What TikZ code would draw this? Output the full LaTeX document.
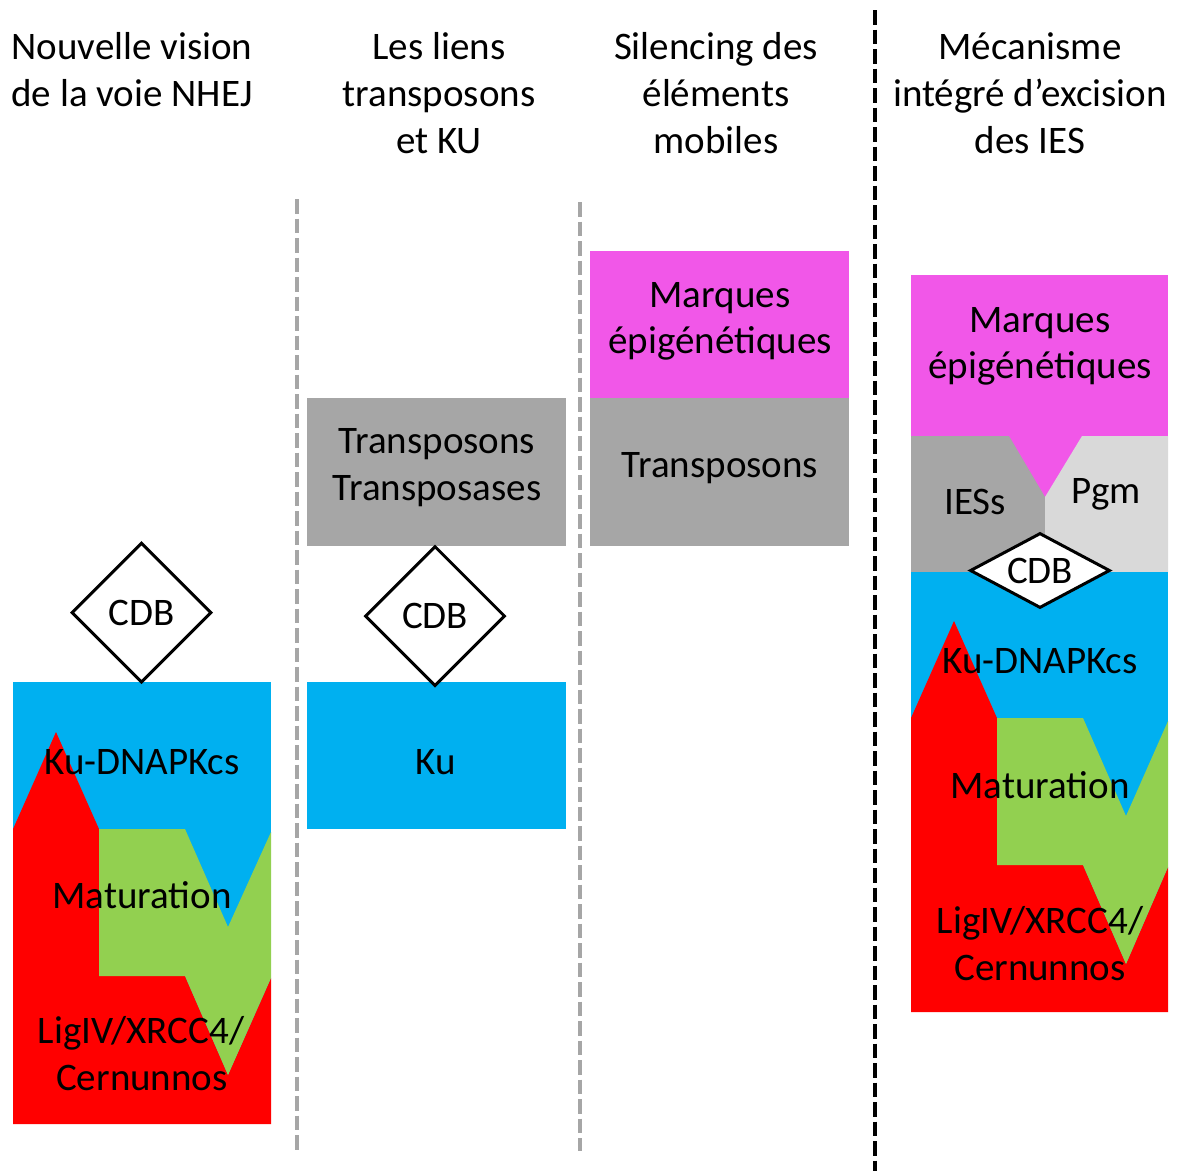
\documentclass[tikz,border=0pt]{standalone}
\usepackage{fontspec}
\setmainfont{Carlito}
\usetikzlibrary{shapes.geometric}
\definecolor{cblue}{HTML}{00B0F0}
\definecolor{cred}{HTML}{FF0000}
\definecolor{cgreen}{HTML}{92D050}
\definecolor{cmag}{HTML}{F157E8}
\definecolor{cgray}{HTML}{A6A6A6}
\definecolor{clgray}{HTML}{D9D9D9}
\definecolor{cdash}{HTML}{A6A6A6}
\begin{document}
\begin{tikzpicture}[x=1pt,y=-1pt,
  txt/.style={font=\fontsize{39}{47}\selectfont, inner sep=0pt, anchor=base},
  cdb/.style={diamond, draw=black, line width=3pt, fill=white, inner sep=0pt,
    font=\fontsize{39}{47}\selectfont},
  sep/.style={line width=3.5pt, dash pattern=on 14.5pt off 5pt}]
\useasboundingbox (0,0) rectangle (1177,1171);
\fill[white] (0,0) rectangle (1177,1171);

% separators
\draw[sep, cdash] (297,199) -- (297,1151);
\draw[sep, cdash] (580,202) -- (580,1151);
\draw[sep, black, line width=4pt] (875,10) -- (875,1171);

% titles
\node[txt] (t1a) at (132,59) {Nouvelle vision};
\node[txt] (t1b) at (132,106) {de la voie NHEJ};
\node[txt] (t2a) at (439,59) {Les liens};
\node[txt] (t2b) at (439,106) {transposons};
\node[txt] (t2c) at (439,153) {et KU};
\node[txt] (t3a) at (716,59) {Silencing des};
\node[txt] (t3b) at (716,106) {éléments};
\node[txt] (t3c) at (716,153) {mobiles};
\node[txt] (t4a) at (1030,59) {Mécanisme};
\node[txt] (t4b) at (1030,106) {intégré d’excision};
\node[txt] (t4c) at (1030,153) {des IES};

% column 1
\fill[cblue] (13,682) rectangle (271,1124);
\fill[cred] (13,829) -- (56,732) -- (99,829) -- (99,976) -- (185,976) -- (228,1075)
  -- (271,978) -- (271,1124) -- (13,1124) -- cycle;
\fill[cgreen] (99,829) -- (185,829) -- (228,927) -- (271,832) -- (271,978)
  -- (228,1075) -- (185,976) -- (99,976) -- cycle;
\node[cdb, minimum width=140pt, minimum height=140pt] (cdb1) at (141.5,612.5) {CDB};
\node[txt] (ku1) at (142,774) {Ku-DNAPKcs};
\node[txt] (mat1) at (142,908) {Maturation};
\node[txt] (lig1) at (141,1043) {LigIV/XRCC4/};
\node[txt] (cer1) at (142,1090) {Cernunnos};

% column 2
\fill[cgray] (307,398) rectangle (566,546);
\fill[cblue] (307,682) rectangle (566,829);
\node[cdb, minimum width=140pt, minimum height=140pt] (cdb2) at (435,616) {CDB};
\node[txt] (tr2a) at (437,453) {Transposons};
\node[txt] (tr2b) at (437,500) {Transposases};
\node[txt] (ku2) at (436,774) {Ku};

% column 3
\fill[cmag] (590,251) rectangle (849,398);
\fill[cgray] (590,398) rectangle (849,546);
\node[txt] (mq3a) at (720,307) {Marques};
\node[txt] (mq3b) at (720,353) {épigénétiques};
\node[txt] (tr3) at (720,477) {Transposons};

% column 4
\fill[cmag] (911,275) rectangle (1168,572);
\fill[cgray] (911,436) -- (1009,436) -- (1045,497) -- (1045,572) -- (911,572) -- cycle;
\fill[clgray] (1082,436) -- (1168,436) -- (1168,572) -- (1045,572) -- (1045,497) -- cycle;
\fill[cblue] (911,572) rectangle (1168,1012);
\fill[cred] (911,718) -- (954,621) -- (997,718) -- (997,865) -- (1083,865) -- (1126,964)
  -- (1168,867) -- (1168,1012) -- (911,1012) -- cycle;
\fill[cgreen] (997,718) -- (1083,718) -- (1126,816) -- (1168,721) -- (1168,867)
  -- (1126,964) -- (1083,865) -- (997,865) -- cycle;
\node[cdb, minimum width=140pt, minimum height=75pt, aspect=1.87] (cdb4) at (1040,570.5) {CDB};
\node[txt] (mq4a) at (1040,332) {Marques};
\node[txt] (mq4b) at (1040,378) {épigénétiques};
\node[txt] (ies) at (975,514) {IESs};
\node[txt] (pgm) at (1106,503) {Pgm};
\node[txt] (ku4) at (1040,673) {Ku-DNAPKcs};
\node[txt] (mat4) at (1040,798) {Maturation};
\node[txt] (lig4) at (1040,933) {LigIV/XRCC4/};
\node[txt] (cer4) at (1040,980) {Cernunnos};
\end{tikzpicture}
\end{document}
